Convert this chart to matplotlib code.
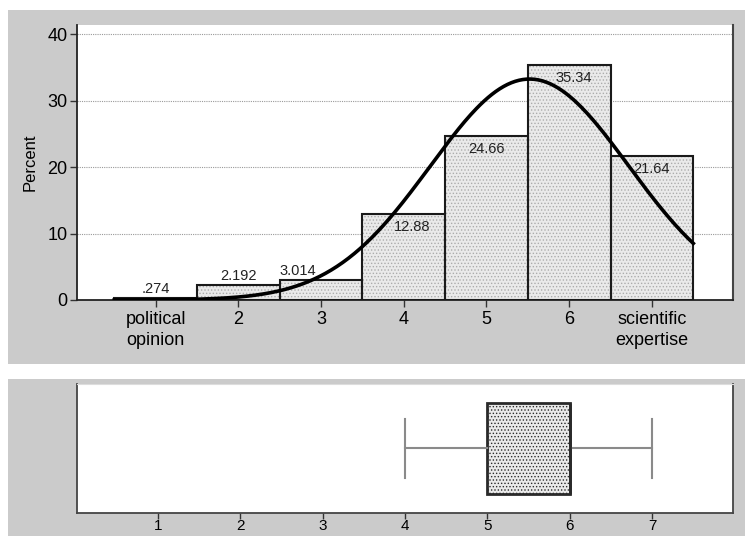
import numpy as np
import matplotlib.pyplot as plt
from matplotlib.patches import Rectangle

plt.rcParams['font.family'] = ['Liberation Sans', 'DejaVu Sans']
plt.rcParams['hatch.linewidth'] = 0.6

# data
categories = [1, 2, 3, 4, 5, 6, 7]
percent = [0.274, 2.192, 3.014, 12.88, 24.66, 35.34, 21.64]
bar_labels = [".274", "2.192", "3.014", "12.88", "24.66", "35.34", "21.64"]
tick_labels = ["political\nopinion", "2", "3", "4", "5", "6", "scientific\nexpertise"]
# box plot summary (lower panel)
box_stats = dict(whislo=4, q1=5, med=6, q3=6, whishi=7)
box_ticks = [1, 2, 3, 4, 5, 6, 7]

# normal curve fitted to the same distribution
x = np.array(categories, dtype=float)
w = np.array(percent) / sum(percent)
mu = (x * w).sum()
sd = np.sqrt(((x - mu) ** 2 * w).sum())

fig = plt.figure(figsize=(7.45, 5.36), dpi=100)
gray = '#cbcbcb'
fig.patches.append(Rectangle((0.0107, 0.321), 0.99, 0.660, transform=fig.transFigure,
                             facecolor=gray, edgecolor='none', zorder=-10))
fig.patches.append(Rectangle((0.0107, 0.0), 0.99, 0.293, transform=fig.transFigure,
                             facecolor=gray, edgecolor='none', zorder=-10))

fill = '#eaeaea'
hatchc = '#acacac'

# top: histogram
ax = fig.add_axes([0.1034, 0.4403, 0.8805, 0.5131])
ax.bar(categories, percent, width=1.0, color=fill, edgecolor=hatchc, hatch='.....',
       linewidth=0, zorder=2)
ax.bar(categories, percent, width=1.0, fill=False, edgecolor='#1a1a1a',
       linewidth=1.5, zorder=3)
xs = np.linspace(0.5, 7.5, 300)
ys = 100 * np.exp(-0.5 * ((xs - mu) / sd) ** 2) / (sd * np.sqrt(2 * np.pi))
ax.plot(xs, ys, color='black', linewidth=2.6, zorder=4)

shift = {3: -0.28, 4: 0.1, 6: 0.06}
for c, v, lab in zip(categories, percent, bar_labels):
    if v < 10:
        ax.annotate(lab, (c + shift.get(c, 0), v), xytext=(0, 1.5), textcoords='offset points',
                    ha='center', va='bottom', fontsize=10.5, color='#222222', zorder=5)
    else:
        ax.annotate(lab, (c + shift.get(c, 0), v), xytext=(0, -4), textcoords='offset points',
                    ha='center', va='top', fontsize=10.5, color='#222222', zorder=5)

ax.set_xlim(0.05, 7.98)
ax.set_ylim(0, 41.4)
ax.set_yticks([0, 10, 20, 30, 40])
ax.set_xticks(categories)
ax.set_xticklabels(tick_labels, fontsize=13, linespacing=1.3)
ax.tick_params(axis='y', labelsize=13, length=5, width=1, color='#333333', pad=2)
ax.tick_params(axis='x', length=5, width=1, color='#333333', pad=3)
ax.grid(axis='y', linestyle=(0, (1, 1)), color='#9a9a9a', linewidth=0.8, zorder=0)
ax.set_axisbelow(True)
ax.set_ylabel("Percent", fontsize=12, labelpad=7)
ax.spines['top'].set_visible(False)
for s in ['left', 'bottom']:
    ax.spines[s].set_color('#222222')
    ax.spines[s].set_linewidth(1.3)
ax.spines['right'].set_color('#444444')
ax.spines['right'].set_linewidth(1.5)

# bottom: box plot
bx = fig.add_axes([0.1034, 0.0429, 0.8805, 0.2407])
st = dict(box_stats)
bx.bxp([st], positions=[0.5], widths=0.70, capwidths=0.465, orientation='horizontal',
       showfliers=False, patch_artist=True,
       boxprops=dict(facecolor=fill, edgecolor='#2a2a2a', linewidth=2.0, hatch='.....'),
       whiskerprops=dict(color='#8a8a8a', linewidth=1.5),
       capprops=dict(color='#8a8a8a', linewidth=1.5),
       medianprops=dict(color='#2a2a2a', linewidth=2.0))
bx.set_xlim(0.02, 7.98)
bx.set_ylim(0, 1)
bx.set_yticks([])
bx.set_xticks(box_ticks)
bx.set_xticklabels([str(t) for t in box_ticks], fontsize=11)
bx.tick_params(axis='x', length=4, width=1, color='#333333', pad=0.5)
bx.spines['top'].set_color('#dddddd')
for s in ['left', 'bottom', 'right']:
    bx.spines[s].set_color('#444444')
    bx.spines[s].set_linewidth(1.3)

fig.savefig("out.png", dpi=100)
